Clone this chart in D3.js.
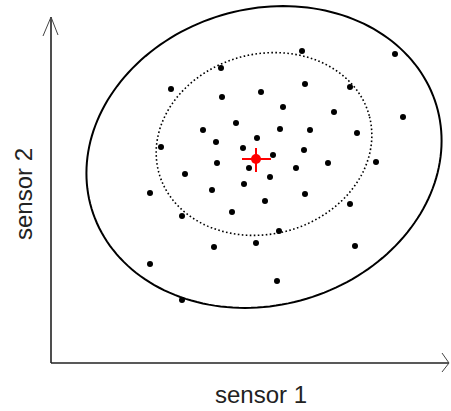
<!DOCTYPE html>
<html>
<head>
<meta charset="utf-8">
<script src="https://cdn.jsdelivr.net/npm/d3@7"></script>
<style>
  body { margin: 0; background: #fff; }
</style>
</head>
<body>
<script>
// readings of the two sensors (arbitrary units)
const sensor1 = [251, 344, 170, 120, 210, 254, 299, 171, 232, 283, 352, 152, 185, 229, 259,
  306, 206, 165, 110, 192, 253, 222, 166, 198, 245, 277, 325, 134, 219, 193, 99, 161, 254,
  214, 299, 181, 131, 228, 163, 205, 304, 99, 226, 131];
const sensor2 = [312, 309, 295, 274, 271, 279, 276, 266, 256, 251, 246, 233, 240, 234, 233,
  230, 225, 221, 216, 215, 213, 208, 200, 195, 195, 200, 201, 189, 186, 179, 170, 173, 169,
  162, 159, 151, 147, 132, 116, 120, 117, 99, 82, 63];

// mean point
const meanPoint = [205, 204];

// ellipses: centre x, centre y, semi-major, semi-minor, angle (deg)
const ellipseNames = ['outer', 'inner'];
const ellipseCx = [213, 213];
const ellipseCy = [206, 219];
const ellipseA = [180, 109];
const ellipseB = [148, 90];
const ellipseAngle = [16.7, 15];

const width = 451, height = 411;

const svg = d3.select('body').append('svg')
  .attr('width', width)
  .attr('height', height);

const x = d3.scaleLinear().domain([0, 398]).range([51, 449]);
const y = d3.scaleLinear().domain([0, 346]).range([363, 17]);

// axes with open arrow heads
svg.append('line')
  .attr('x1', x(0)).attr('y1', y(0))
  .attr('x2', x(0)).attr('y2', y(346))
  .attr('stroke', '#222')
  .attr('stroke-width', 1.6);

svg.append('line')
  .attr('x1', x(0)).attr('y1', y(0))
  .attr('x2', x(398)).attr('y2', y(0))
  .attr('stroke', '#222')
  .attr('stroke-width', 1.6);

svg.append('path')
  .attr('d', `M${x(0) - 8},${y(346) + 19} L${x(0)},${y(346)} L${x(0) + 7},${y(346) + 18}`)
  .attr('fill', 'none')
  .attr('stroke', '#444')
  .attr('stroke-width', 1);

svg.append('path')
  .attr('d', `M${x(398) - 7},${y(0) - 10} L${x(398)},${y(0)} L${x(398) - 7},${y(0) + 9}`)
  .attr('fill', 'none')
  .attr('stroke', '#444')
  .attr('stroke-width', 1);

// ellipses
const line = d3.line().curve(d3.curveLinearClosed);

function ellipsePoints(i) {
  const t = ellipseAngle[i] * Math.PI / 180;
  return d3.range(0, 360, 2).map(deg => {
    const u = deg * Math.PI / 180;
    const ex = ellipseA[i] * Math.cos(u);
    const ey = ellipseB[i] * Math.sin(u);
    return [
      x(ellipseCx[i] + ex * Math.cos(t) - ey * Math.sin(t)),
      y(ellipseCy[i] + ex * Math.sin(t) + ey * Math.cos(t))
    ];
  });
}

svg.append('path')
  .attr('d', line(ellipsePoints(0)))
  .attr('fill', 'none')
  .attr('stroke', '#000')
  .attr('stroke-width', 2);

svg.append('path')
  .attr('d', line(ellipsePoints(1)))
  .attr('fill', 'none')
  .attr('stroke', '#000')
  .attr('stroke-width', 1.6)
  .attr('stroke-dasharray', '1.6,2.4');

// points
svg.selectAll('circle.pt')
  .data(sensor1.map((d, i) => [d, sensor2[i]]))
  .enter()
  .append('circle')
  .attr('class', 'pt')
  .attr('cx', d => x(d[0]))
  .attr('cy', d => y(d[1]))
  .attr('r', 3)
  .attr('fill', '#000');

// mean marker
const mx = x(meanPoint[0]), my = y(meanPoint[1]);
svg.append('line')
  .attr('x1', mx - 14).attr('y1', my)
  .attr('x2', mx + 15).attr('y2', my)
  .attr('stroke', '#f00')
  .attr('stroke-width', 2);
svg.append('line')
  .attr('x1', mx).attr('y1', my - 11)
  .attr('x2', mx).attr('y2', my + 13)
  .attr('stroke', '#f00')
  .attr('stroke-width', 2);
svg.append('circle')
  .attr('cx', mx)
  .attr('cy', my)
  .attr('r', 5)
  .attr('fill', '#f00');

// axis titles
svg.append('text')
  .text('sensor 1')
  .attr('x', 261)
  .attr('y', 403)
  .attr('text-anchor', 'middle')
  .style('font-family', 'Arial, "Liberation Sans", sans-serif')
  .style('font-size', '24px')
  .style('fill', '#222');

svg.append('text')
  .text('sensor 2')
  .attr('transform', 'translate(32,194) rotate(-90)')
  .attr('text-anchor', 'middle')
  .style('font-family', 'Arial, "Liberation Sans", sans-serif')
  .style('font-size', '24px')
  .style('fill', '#222');
</script>
</body>
</html>
